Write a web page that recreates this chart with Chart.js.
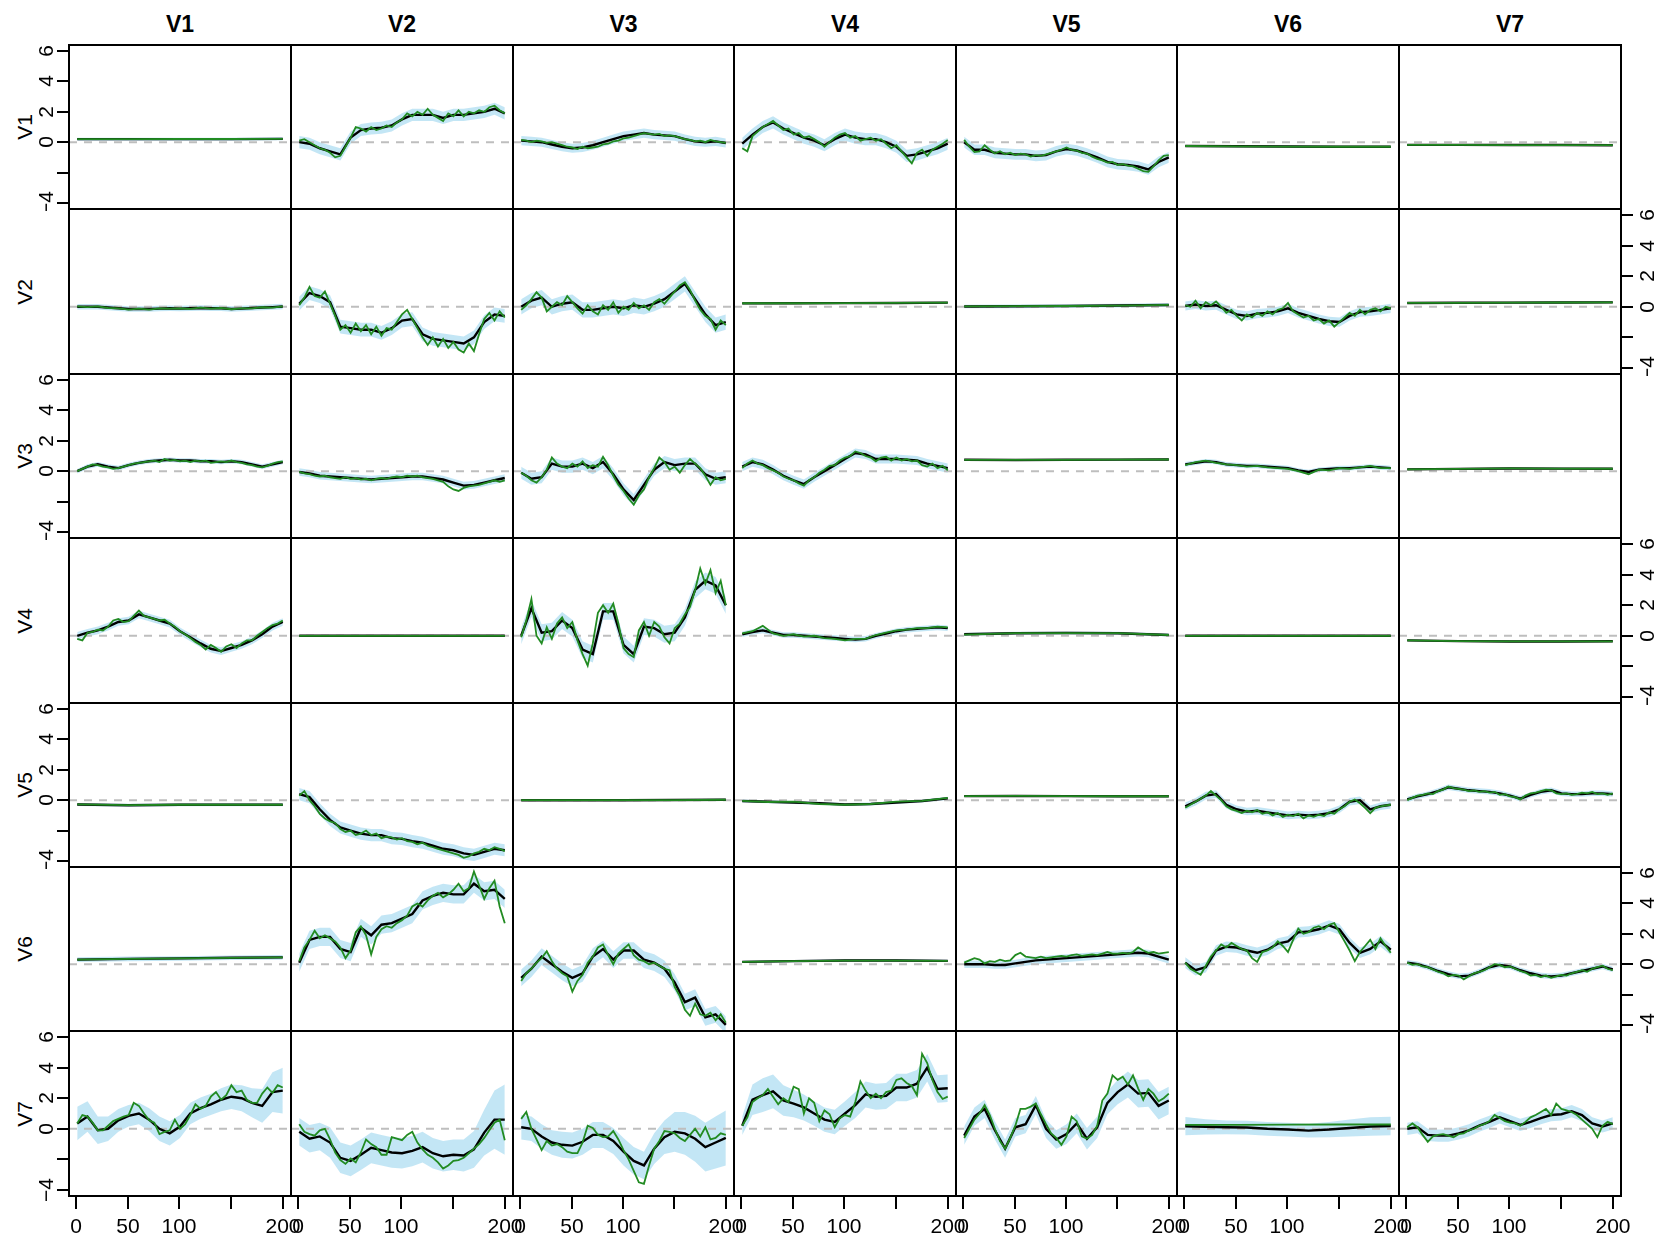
<!DOCTYPE html>
<html>
<head>
<meta charset="utf-8">
<script src="https://cdn.jsdelivr.net/npm/chart.js@4.4.0/dist/chart.umd.min.js"></script>
<style>
html,body{margin:0;padding:0;background:#fff;overflow:hidden}
#wrap{position:relative;width:1658px;height:1235px}
#wrap canvas{position:absolute}
.title{position:absolute;font:bold 23px "Liberation Sans",Arial,sans-serif;text-align:center;line-height:23px;color:#000}
.rowlab{position:absolute;font:21px "Liberation Sans",Arial,sans-serif;text-align:center;line-height:24px;width:60px;height:24px;transform:rotate(-90deg);color:#000}
</style>
</head>
<body>
<div id="wrap"></div>
<script>
// 7x7 grid of series, V-row against V-column. values.
const varNames = ['V1','V2','V3','V4','V5','V6','V7']
const xTicks = [0,50,100,150,200]
const xTickLabels = ['0','50','100','','200']
const yTicks = [-4,-2,0,2,4,6]
const yTickLabels = ['\u22124','','0','2','4','6']
const tFirst = 1, tLast = 200

// each row: one array per column (black = smoothed line, green = raw line, band = half width)
const row1Black = [
  [0.2,0.2,0.2,0.2,0.22],
  [0.0,-0.1,-0.4,-0.6,-0.8,0.3,0.8,0.9,0.95,1.1,1.5,1.8,1.8,1.8,1.6,1.8,1.8,1.9,2.0,2.2,1.9],
  [0.1,0.05,0.0,-0.15,-0.3,-0.4,-0.35,-0.2,0.0,0.2,0.4,0.5,0.6,0.5,0.45,0.4,0.2,0.05,0.0,0.05,-0.05],
  [-0.1,0.5,1.0,1.3,0.9,0.6,0.3,0.1,-0.2,0.2,0.5,0.3,0.2,0.2,0.0,-0.3,-0.9,-0.8,-0.6,-0.4,-0.1],
  [0.0,-0.5,-0.5,-0.7,-0.75,-0.8,-0.8,-0.9,-0.85,-0.6,-0.45,-0.55,-0.75,-1.0,-1.3,-1.45,-1.5,-1.6,-1.8,-1.3,-1.0],
  [-0.25,-0.27,-0.28,-0.3,-0.3],
  [-0.18,-0.18,-0.19,-0.19,-0.2]
]
const row1Green = [
  [0.2,0.2,0.21,0.21,0.22],
  [0.1,0.2,0.0,-0.2,-0.4,-0.5,-0.7,-1.0,-0.9,-0.3,0.3,1.0,0.9,0.7,1.0,0.8,0.9,1.1,1.0,1.3,1.5,1.9,1.7,2.0,1.8,2.2,1.8,1.6,1.4,1.9,1.7,2.1,1.7,2.0,1.9,2.1,2.0,2.3,2.4,2.1,1.9],
  [0.15,0.1,0.0,0.1,0.05,-0.05,0.0,-0.1,-0.2,-0.3,-0.35,-0.45,-0.3,-0.4,-0.35,-0.3,-0.15,-0.1,0.05,0.1,0.25,0.3,0.4,0.5,0.6,0.55,0.5,0.55,0.4,0.45,0.4,0.3,0.2,0.15,0.05,0.1,0.0,0.15,0.05,0.0,-0.05],
  [-0.4,-0.6,0.4,0.7,1.0,1.2,1.4,1.1,0.8,0.9,0.5,0.6,0.3,0.4,0.2,0.0,-0.3,0.0,0.3,0.5,0.6,0.3,0.4,0.1,0.2,0.3,0.1,0.2,-0.1,-0.4,-0.2,-0.6,-1.0,-1.4,-0.7,-0.5,-0.9,-0.5,-0.3,-0.1,0.15],
  [0.15,-0.3,-0.65,-0.6,-0.2,-0.5,-0.75,-0.6,-0.8,-0.7,-0.85,-0.75,-0.8,-0.95,-0.85,-0.9,-0.8,-0.7,-0.6,-0.5,-0.35,-0.5,-0.55,-0.7,-0.75,-0.95,-1.1,-1.2,-1.35,-1.3,-1.5,-1.45,-1.55,-1.6,-1.75,-1.9,-1.95,-1.6,-1.2,-0.9,-0.85],
  [-0.25,-0.27,-0.29,-0.3,-0.3],
  [-0.18,-0.18,-0.19,-0.19,-0.2]
]
const row1Band = [0.1,0.4,0.3,0.4,0.35,0.06,0.05]

const row2Black = [
  [0.0,0.0,0.0,-0.05,-0.1,-0.15,-0.15,-0.15,-0.12,-0.1,-0.12,-0.1,-0.08,-0.1,-0.1,-0.15,-0.12,-0.08,-0.05,-0.02,0.02],
  [0.2,0.9,0.7,0.3,-1.3,-1.4,-1.5,-1.5,-1.7,-1.4,-0.9,-0.8,-1.8,-2.1,-2.2,-2.3,-2.4,-2.0,-1.0,-0.5,-0.6],
  [0.0,0.4,0.6,0.0,0.2,0.3,-0.2,-0.2,-0.1,0.0,-0.1,0.1,0.0,0.2,0.5,1.0,1.5,0.5,-0.5,-1.2,-1.0],
  [0.22,0.23,0.24,0.25,0.27],
  [0.02,0.03,0.05,0.08,0.12],
  [0.05,0.15,0.05,0.1,-0.2,-0.5,-0.6,-0.45,-0.4,-0.3,-0.1,-0.4,-0.6,-0.8,-0.95,-1.0,-0.6,-0.35,-0.3,-0.2,-0.1],
  [0.25,0.26,0.27,0.28,0.29]
]
const row2Green = [
  [0.02,-0.02,0.03,-0.08,-0.1,-0.18,-0.12,-0.18,-0.1,-0.12,-0.1,-0.14,-0.06,-0.12,-0.08,-0.16,-0.1,-0.1,-0.03,-0.05,0.03],
  [0.1,0.6,1.3,0.7,0.6,1.0,0.2,-0.6,-1.5,-1.2,-1.7,-1.1,-1.6,-1.2,-1.8,-1.3,-1.9,-1.4,-1.5,-1.0,-0.5,-0.2,-0.8,-1.4,-2.0,-2.5,-2.0,-2.6,-2.1,-2.7,-2.3,-2.8,-3.0,-2.4,-2.9,-1.8,-0.8,-0.4,-0.9,-0.3,-0.7],
  [-0.2,0.1,0.5,0.95,0.6,-0.3,0.0,0.3,0.1,0.7,0.3,-0.1,-0.45,0.1,-0.3,-0.5,0.1,-0.2,0.3,-0.4,0.0,-0.2,0.25,-0.1,0.1,-0.2,0.3,0.5,0.2,0.6,1.0,1.4,1.6,1.1,0.4,-0.2,-0.6,-0.8,-1.5,-0.9,-1.2],
  [0.23,0.23,0.24,0.26,0.27],
  [0.02,0.04,0.05,0.08,0.12],
  [0.1,0.0,0.4,-0.1,0.3,0.1,0.35,0.0,-0.4,-0.2,-0.6,-0.9,-0.5,-0.7,-0.4,-0.6,-0.3,-0.5,-0.2,-0.1,0.25,-0.3,-0.5,-0.7,-0.6,-0.9,-0.8,-1.1,-0.9,-1.3,-1.0,-0.7,-0.4,-0.6,-0.2,-0.5,-0.2,-0.1,-0.3,0.0,-0.1],
  [0.25,0.26,0.27,0.28,0.29]
]
const row2Band = [0.18,0.45,0.5,0.05,0.12,0.3,0.05]

const row3Black = [
  [0.0,0.3,0.45,0.3,0.2,0.4,0.55,0.65,0.7,0.75,0.7,0.7,0.65,0.65,0.6,0.65,0.6,0.45,0.3,0.45,0.6],
  [-0.05,-0.15,-0.3,-0.35,-0.4,-0.45,-0.5,-0.55,-0.5,-0.45,-0.4,-0.35,-0.35,-0.45,-0.55,-0.75,-0.95,-0.9,-0.75,-0.6,-0.45],
  [-0.1,-0.5,-0.4,0.5,0.3,0.3,0.5,0.2,0.6,-0.2,-1.2,-1.9,-0.9,0.1,0.6,0.4,0.5,0.5,-0.2,-0.5,-0.4],
  [0.3,0.6,0.45,0.1,-0.3,-0.6,-0.85,-0.4,0.0,0.4,0.8,1.2,1.1,0.8,0.8,0.8,0.75,0.7,0.5,0.35,0.2],
  [0.75,0.74,0.75,0.76,0.77],
  [0.45,0.55,0.65,0.6,0.45,0.4,0.35,0.35,0.3,0.25,0.2,0.05,-0.05,0.1,0.15,0.2,0.2,0.25,0.3,0.25,0.2],
  [0.12,0.15,0.18,0.17,0.16]
]
const row3Green = [
  [0.0,0.15,0.3,0.45,0.4,0.3,0.25,0.15,0.2,0.3,0.4,0.5,0.55,0.6,0.65,0.7,0.6,0.8,0.7,0.75,0.65,0.7,0.6,0.7,0.65,0.7,0.55,0.6,0.65,0.6,0.7,0.6,0.55,0.45,0.4,0.3,0.25,0.35,0.5,0.6,0.65],
  [-0.05,-0.15,-0.2,-0.3,-0.35,-0.3,-0.4,-0.45,-0.5,-0.4,-0.5,-0.45,-0.55,-0.5,-0.6,-0.5,-0.45,-0.5,-0.4,-0.35,-0.4,-0.3,-0.35,-0.3,-0.4,-0.45,-0.5,-0.6,-0.7,-1.0,-1.2,-1.3,-1.1,-1.0,-0.95,-0.9,-0.8,-0.7,-0.6,-0.7,-0.6],
  [-0.1,-0.3,-0.6,-0.75,-0.4,0.1,0.9,0.5,0.3,0.2,0.5,0.3,0.65,0.2,0.4,0.3,0.95,0.4,-0.3,-0.9,-1.3,-1.8,-2.2,-1.6,-1.2,-0.4,0.2,0.9,0.6,0.1,0.3,-0.1,0.4,0.8,0.5,0.2,-0.3,-0.9,-0.4,-0.6,-0.5],
  [0.2,0.5,0.7,0.5,0.4,0.2,0.05,-0.1,-0.35,-0.5,-0.6,-0.8,-0.95,-0.6,-0.4,-0.1,0.1,0.35,0.4,0.7,0.9,1.0,1.3,1.2,1.0,0.9,0.65,0.9,0.95,0.7,0.9,0.7,0.8,0.65,0.7,0.4,0.3,0.5,0.2,0.35,0.05],
  [0.75,0.74,0.75,0.76,0.77],
  [0.4,0.6,0.7,0.55,0.45,0.4,0.3,0.35,0.25,0.2,0.15,0.0,-0.2,0.1,0.05,0.2,0.15,0.25,0.35,0.2,0.2],
  [0.12,0.15,0.18,0.17,0.16]
]
const row3Band = [0.15,0.25,0.4,0.3,0.05,0.15,0.05]

const row4Black = [
  [0.0,0.2,0.35,0.6,0.9,1.0,1.4,1.2,1.0,0.8,0.3,-0.1,-0.5,-0.85,-1.0,-0.8,-0.6,-0.3,0.1,0.6,0.9],
  [0.0,0.0,0.0,0.0,0.0],
  [0.0,1.8,0.2,0.3,1.0,0.5,-0.9,-1.2,1.6,1.6,-0.6,-1.2,0.6,0.5,0.1,0.2,1.2,3.0,3.6,3.3,2.0],
  [0.1,0.25,0.35,0.2,0.05,0.05,0.0,-0.05,-0.1,-0.15,-0.2,-0.25,-0.2,0.0,0.15,0.3,0.4,0.45,0.5,0.55,0.5],
  [0.1,0.17,0.18,0.17,0.05],
  [0.0,0.0,0.0,0.0,0.0],
  [-0.3,-0.35,-0.37,-0.37,-0.36]
]
const row4Green = [
  [-0.2,-0.3,0.2,0.25,0.4,0.35,0.6,1.0,1.1,0.9,0.95,1.3,1.65,1.3,1.2,1.1,1.0,1.05,0.8,0.6,0.3,0.1,-0.15,-0.4,-0.6,-0.9,-0.6,-0.8,-1.05,-0.7,-0.55,-0.8,-0.5,-0.3,-0.3,0.0,0.25,0.5,0.7,0.8,1.0],
  [0.0,0.0,0.0,0.0,0.0],
  [-0.1,1.0,2.4,0.0,-0.5,0.55,-0.2,0.8,1.2,0.5,0.9,-0.3,-1.2,-1.95,-0.5,1.5,2.0,1.5,2.1,0.8,-0.8,-1.2,-1.4,0.35,0.9,0.0,0.9,0.6,-0.1,-0.5,0.5,0.8,1.4,1.9,3.0,4.4,3.4,4.3,2.8,3.6,2.0],
  [0.15,0.3,0.65,0.15,0.0,0.1,-0.05,0.0,-0.15,-0.2,-0.3,-0.2,-0.2,0.05,0.2,0.35,0.4,0.5,0.5,0.6,0.55],
  [0.08,0.18,0.17,0.18,0.05],
  [0.0,0.0,0.0,0.0,0.0],
  [-0.3,-0.35,-0.37,-0.37,-0.36]
]
const row4Band = [0.25,0.03,0.55,0.18,0.1,0.03,0.04]

const row5Black = [
  [-0.28,-0.33,-0.3,-0.3,-0.3],
  [0.4,0.2,-0.6,-1.3,-1.8,-2.0,-2.2,-2.3,-2.3,-2.5,-2.55,-2.7,-2.8,-3.0,-3.2,-3.3,-3.5,-3.6,-3.4,-3.2,-3.3],
  [0.0,0.0,0.0,0.01,0.03],
  [-0.05,-0.1,-0.15,-0.2,-0.28,-0.25,-0.15,-0.05,0.12],
  [0.27,0.28,0.27,0.26,0.26],
  [-0.4,-0.1,0.3,0.4,-0.3,-0.6,-0.75,-0.7,-0.8,-0.9,-1.0,-0.95,-1.0,-0.95,-0.85,-0.6,-0.1,0.0,-0.6,-0.4,-0.3],
  [0.05,0.25,0.4,0.6,0.85,0.75,0.65,0.6,0.55,0.45,0.3,0.1,0.35,0.55,0.65,0.45,0.4,0.4,0.45,0.45,0.4]
]
const row5Green = [
  [-0.28,-0.33,-0.3,-0.3,-0.3],
  [0.3,0.6,0.0,-0.4,-0.9,-1.2,-1.4,-1.5,-1.9,-2.1,-2.0,-2.3,-2.2,-2.0,-2.3,-2.2,-2.5,-2.4,-2.45,-2.6,-2.5,-2.7,-2.75,-2.9,-2.8,-3.0,-3.1,-3.2,-3.3,-3.4,-3.5,-3.6,-3.8,-3.7,-3.5,-3.4,-3.2,-3.3,-3.1,-3.2,-3.35],
  [0.0,0.0,0.0,0.01,0.03],
  [-0.05,-0.12,-0.1,-0.25,-0.3,-0.25,-0.1,-0.05,0.15],
  [0.27,0.28,0.27,0.26,0.26],
  [-0.5,-0.3,-0.1,0.1,0.3,0.6,0.3,0.0,-0.4,-0.6,-0.7,-0.85,-0.7,-0.8,-0.65,-0.9,-0.8,-1.0,-0.85,-1.1,-0.95,-1.05,-0.9,-1.2,-1.0,-1.1,-0.95,-1.05,-0.8,-0.9,-0.6,-0.4,-0.1,0.05,-0.2,-0.5,-0.85,-0.5,-0.4,-0.35,-0.3],
  [0.0,0.15,0.3,0.35,0.45,0.4,0.6,0.7,0.9,0.8,0.75,0.7,0.6,0.65,0.55,0.6,0.5,0.55,0.35,0.4,0.25,0.2,0.05,0.3,0.45,0.5,0.6,0.7,0.65,0.45,0.4,0.45,0.35,0.4,0.5,0.45,0.55,0.4,0.45,0.35,0.45]
]
const row5Band = [0.1,0.4,0.06,0.1,0.06,0.25,0.18]

const row6Black = [
  [0.3,0.35,0.38,0.42,0.45],
  [0.1,1.6,1.8,1.8,1.0,0.8,2.4,1.9,2.6,2.7,3.0,3.3,4.2,4.5,4.7,4.6,4.6,5.3,4.8,4.9,4.3],
  [-0.9,-0.3,0.5,0.0,-0.5,-0.9,-0.6,0.5,1.0,0.3,0.9,0.9,0.3,0.1,-0.3,-1.2,-2.5,-2.2,-3.5,-3.3,-4.0],
  [0.15,0.2,0.24,0.24,0.22],
  [0.0,0.0,0.0,-0.05,-0.05,0.05,0.15,0.25,0.3,0.35,0.4,0.45,0.5,0.55,0.6,0.65,0.7,0.75,0.7,0.5,0.3],
  [0.1,-0.4,-0.2,0.9,1.15,1.1,0.9,0.75,0.95,1.35,1.5,2.1,2.15,2.3,2.55,2.3,1.4,0.75,1.0,1.5,0.95],
  [0.1,0.0,-0.2,-0.45,-0.65,-0.8,-0.75,-0.5,-0.2,-0.05,-0.15,-0.4,-0.6,-0.75,-0.8,-0.75,-0.6,-0.45,-0.3,-0.15,-0.35]
]
const row6Green = [
  [0.3,0.35,0.38,0.42,0.45],
  [0.2,1.1,1.6,2.2,1.7,1.9,1.7,1.5,1.1,0.4,0.9,2.1,2.5,1.9,0.65,1.8,2.3,2.5,2.4,2.7,2.9,3.2,3.8,4.0,3.8,4.2,4.5,4.7,4.4,4.6,4.9,5.3,4.8,5.0,6.1,5.2,4.3,5.0,5.5,3.8,2.7],
  [-1.1,-0.6,-0.3,0.1,0.4,0.85,0.2,-0.3,-0.6,-0.8,-1.8,-1.1,-0.7,0.1,0.5,1.1,1.3,0.6,0.0,0.7,1.0,1.3,0.6,0.3,0.2,0.0,0.1,-0.1,-0.3,-0.4,-1.5,-2.1,-3.0,-3.4,-2.6,-3.3,-3.4,-3.2,-3.7,-3.3,-3.85],
  [0.15,0.2,0.24,0.24,0.22],
  [0.1,0.25,0.4,0.3,0.05,0.2,0.15,0.3,0.2,0.25,0.6,0.75,0.5,0.45,0.4,0.5,0.4,0.45,0.5,0.55,0.5,0.6,0.65,0.55,0.6,0.65,0.6,0.7,0.8,0.7,0.7,0.75,0.7,0.8,1.1,0.9,0.75,0.8,0.7,0.75,0.8],
  [0.1,-0.3,-0.5,-0.7,-0.1,0.5,0.9,1.3,1.1,1.4,1.2,1.0,0.9,0.4,0.15,0.8,0.9,1.1,1.5,1.2,0.8,1.6,2.35,2.0,2.1,2.4,2.5,2.3,2.6,2.7,2.1,1.5,0.9,0.2,0.8,1.2,1.6,1.0,1.7,1.2,0.75],
  [0.1,-0.05,0.0,-0.15,-0.2,-0.35,-0.5,-0.6,-0.8,-0.7,-0.75,-1.0,-0.8,-0.6,-0.5,-0.4,-0.2,0.0,-0.05,-0.2,-0.15,-0.3,-0.45,-0.55,-0.75,-0.7,-0.85,-0.75,-0.9,-0.8,-0.7,-0.75,-0.6,-0.5,-0.4,-0.5,-0.3,-0.2,-0.1,-0.3,-0.4]
]
const row6Band = [0.15,0.6,0.55,0.08,0.25,0.35,0.18]

const row7Black = [
  [0.35,0.8,-0.1,0.0,0.55,0.85,1.0,0.6,0.0,-0.3,0.15,1.0,1.35,1.6,1.9,2.1,2.0,1.7,1.5,2.4,2.5],
  [-0.2,-0.65,-0.5,-0.9,-1.9,-2.1,-1.7,-1.25,-1.4,-1.55,-1.6,-1.45,-1.2,-1.6,-1.8,-1.7,-1.75,-1.35,-0.25,0.6,0.6],
  [0.1,0.0,-0.5,-0.9,-1.05,-1.1,-0.85,-0.4,-0.4,-0.8,-1.5,-2.1,-2.4,-1.3,-0.55,-0.2,-0.3,-0.65,-1.2,-0.9,-0.6],
  [0.2,1.9,2.2,2.45,1.85,1.65,1.4,1.0,0.6,0.45,1.0,1.55,2.25,2.1,2.15,2.7,2.7,2.95,4.0,2.6,2.65],
  [-0.45,0.8,1.3,-0.1,-1.3,0.1,0.3,1.55,0.0,-0.7,-0.35,0.35,-0.65,0.1,1.7,2.4,2.9,2.3,2.35,1.5,1.85],
  [0.17,0.13,0.1,0.08,0.0,-0.05,-0.12,-0.05,0.05,0.15,0.18],
  [0.0,0.1,-0.4,-0.45,-0.45,-0.3,-0.1,0.2,0.45,0.75,0.5,0.25,0.45,0.7,0.9,0.95,1.15,0.9,0.35,0.15,0.35]
]
const row7Green = [
  [0.35,0.9,0.8,0.4,-0.1,-0.1,0.2,0.5,0.65,0.8,0.9,1.7,1.5,1.0,0.55,0.4,-0.35,-0.2,-0.1,0.6,0.0,0.3,0.9,1.6,1.3,1.5,2.1,2.4,1.9,2.2,2.85,2.4,2.5,1.9,1.7,1.7,2.3,2.7,2.35,2.85,2.7],
  [0.3,-0.2,-0.35,-0.45,-0.1,0.0,-0.7,-1.55,-2.05,-2.3,-1.95,-2.2,-1.55,-0.7,-1.0,-1.2,-1.7,-1.7,-0.55,-0.65,-0.75,-0.4,-0.2,-0.9,-1.35,-1.7,-1.9,-2.2,-2.6,-2.4,-2.1,-2.05,-1.9,-1.6,-1.3,-1.0,-0.6,-0.1,0.4,0.6,-0.75],
  [0.65,1.1,0.0,-0.7,-1.4,-0.8,-1.1,-1.0,-1.2,-1.5,-1.6,-1.6,-0.9,0.2,0.05,-0.4,-0.55,-0.5,-0.15,-0.7,-1.4,-2.0,-2.75,-3.5,-3.6,-2.4,-1.3,-0.8,-0.15,-0.2,-0.3,-0.6,-0.8,-0.4,0.0,-0.5,0.1,-0.7,-0.6,-0.3,-0.4],
  [0.2,0.75,1.75,2.0,2.2,2.6,2.1,1.6,2.0,1.75,2.75,2.6,1.0,2.0,1.7,0.5,1.2,0.95,0.1,0.7,0.9,0.8,1.75,3.1,2.5,2.0,2.3,2.0,2.4,2.5,3.2,3.3,3.0,2.8,2.2,4.9,4.3,3.2,2.4,1.95,2.1],
  [-0.6,0.0,0.6,1.0,1.55,0.9,0.0,-0.8,-1.3,-0.6,0.2,1.3,1.3,1.45,1.65,0.95,0.3,-0.3,-0.6,-1.05,-0.5,0.8,0.5,-0.5,-0.65,-0.4,0.2,1.85,2.3,3.5,3.2,3.4,2.9,3.5,2.65,1.9,2.6,2.3,1.8,2.0,2.3],
  [0.25,0.26,0.27,0.28,0.28],
  [0.1,0.35,0.1,-0.4,-0.85,-0.5,-0.4,-0.35,-0.45,-0.55,-0.35,-0.3,-0.1,0.0,0.2,0.3,0.5,0.9,0.7,0.5,0.4,0.35,0.2,0.45,0.75,0.9,1.1,1.3,0.9,1.65,1.3,1.2,1.1,0.9,0.6,0.3,0.0,-0.55,0.2,0.45,0.3]
]
const row7Band = [
  [1.1,1.0,0.9,0.8,0.75,0.7,0.7,0.75,0.8,0.8,0.75,0.7,0.7,0.7,0.75,0.8,0.85,0.95,1.1,1.3,1.5],
  [0.9,0.9,0.9,1.0,1.0,1.0,1.0,1.0,1.0,1.0,1.0,1.0,1.0,1.0,1.0,1.0,1.05,1.2,1.5,1.9,2.3],
  [0.8,0.8,0.8,0.8,0.85,0.85,0.85,0.85,0.85,0.85,0.9,0.9,0.9,1.0,1.1,1.3,1.4,1.5,1.6,1.7,1.8],
  [0.6,1.0,1.1,1.1,1.0,0.9,0.85,0.8,0.8,0.8,0.8,0.85,0.85,0.85,0.85,0.9,0.9,0.9,0.9,0.9,0.9],
  [0.6,0.6,0.6,0.6,0.6,0.6,0.6,0.6,0.6,0.6,0.65,0.65,0.7,0.7,0.75,0.8,0.85,0.9,0.9,0.9,0.9],
  [0.6,0.5,0.45,0.45,0.45,0.45,0.45,0.5,0.55,0.6,0.6],
  0.4
]

const blackRows = [row1Black,row2Black,row3Black,row4Black,row5Black,row6Black,row7Black]
const greenRows = [row1Green,row2Green,row3Green,row4Green,row5Green,row6Green,row7Green]
const bandRows = [row1Band,row2Band,row3Band,row4Band,row5Band,row6Band,row7Band]

// scale limits (R style 4% padding round the data range)
const X_MIN = -6.96, X_MAX = 207.96
const Y_MIN = -4.4, Y_MAX = 6.4

const GRID_LEFT = 69.4, GRID_TOP = 45, CELL_W = 221.6, CELL_H = 164.4
const colX = [], rowY = []
for(let i=0;i<=7;i++){ colX.push(Math.round(GRID_LEFT+i*CELL_W)); rowY.push(Math.round(GRID_TOP+i*CELL_H)) }

const FONT = '"Liberation Sans", Arial, Helvetica, sans-serif'

function toPoints(vals){
  const n = vals.length
  return vals.map((v,i)=>({x: tFirst + i*(tLast-tFirst)/(n-1), y: v}))
}
function bandEdge(black, w, sign){
  return black.map((v,i)=>{
    const half = Array.isArray(w) ? w[i] : w
    return v + sign*half
  })
}

const panelAxes = {
  id: 'panelAxes',
  afterDraw(chart, args, opts){
    const {ctx, chartArea:a} = chart
    const xs = chart.scales.x, ys = chart.scales.y
    ctx.save()
    ctx.strokeStyle = '#000'
    ctx.lineWidth = 2
    ctx.strokeRect(a.left, a.top, a.right-a.left, a.bottom-a.top)
    ctx.fillStyle = '#000'
    ctx.font = '21px ' + FONT
    if(opts.left || opts.right){
      yTicks.forEach((v,i)=>{
        const py = Math.round(ys.getPixelForValue(v))
        ctx.beginPath()
        if(opts.left){ ctx.moveTo(a.left-12, py); ctx.lineTo(a.left, py) }
        else { ctx.moveTo(a.right, py); ctx.lineTo(a.right+12, py) }
        ctx.stroke()
        if(yTickLabels[i]){
          ctx.save()
          ctx.translate(opts.left ? a.left-16.5 : a.right+33, py)
          ctx.rotate(-Math.PI/2)
          ctx.textAlign = 'center'
          ctx.textBaseline = 'alphabetic'
          ctx.fillText(yTickLabels[i], 0, 0)
          ctx.restore()
        }
      })
    }
    if(opts.bottom){
      xTicks.forEach((v,i)=>{
        const px = Math.round(xs.getPixelForValue(v))
        ctx.beginPath(); ctx.moveTo(px, a.bottom); ctx.lineTo(px, a.bottom+13); ctx.stroke()
        if(xTickLabels[i]){
          ctx.textAlign = 'center'
          ctx.textBaseline = 'alphabetic'
          ctx.fillText(xTickLabels[i], px, a.bottom+37)
        }
      })
    }
    ctx.restore()
  }
}

const wrap = document.getElementById('wrap')

for(let c=0;c<7;c++){
  const d = document.createElement('div')
  d.className = 'title'
  d.textContent = varNames[c]
  d.style.left = colX[c]+'px'
  d.style.width = (colX[c+1]-colX[c])+'px'
  d.style.top = '13px'
  wrap.appendChild(d)
}
for(let r=0;r<7;r++){
  const d = document.createElement('div')
  d.className = 'rowlab'
  d.textContent = varNames[r]
  const cy = (rowY[r]+rowY[r+1])/2
  d.style.left = (25-30)+'px'
  d.style.top = (cy-12)+'px'
  wrap.appendChild(d)
}

for(let r=0;r<7;r++){
  for(let c=0;c<7;c++){
    const black = blackRows[r][c], green = greenRows[r][c], w = bandRows[r][c]
    const padL = c===0 ? 70 : 2
    const padR = c===6 ? 42 : (r===6 ? 20 : 2)
    const padT = 2
    const padB = r===6 ? 42 : 2
    const pw = colX[c+1]-colX[c], ph = rowY[r+1]-rowY[r]
    const cv = document.createElement('canvas')
    cv.width = pw+padL+padR
    cv.height = ph+padT+padB
    cv.style.width = cv.width+'px'
    cv.style.height = cv.height+'px'
    cv.style.left = (colX[c]-padL)+'px'
    cv.style.top = (rowY[r]-padT)+'px'
    wrap.appendChild(cv)

    new Chart(cv, {
      type: 'line',
      data: {datasets: [
        {data: toPoints(green), borderColor: '#228B22', borderWidth: 1.8},
        {data: toPoints(black), borderColor: '#000', borderWidth: 2.4},
        {data: [{x:X_MIN,y:0},{x:X_MAX,y:0}], borderColor: '#bebebe', borderWidth: 2, borderDash: [8,7]},
        {data: toPoints(bandEdge(black, w, 1)), borderWidth: 0, borderColor: 'rgba(0,0,0,0)', backgroundColor: 'rgba(135,206,235,0.5)', fill: '+1'},
        {data: toPoints(bandEdge(black, w, -1)), borderWidth: 0, borderColor: 'rgba(0,0,0,0)', fill: false}
      ]},
      options: {
        responsive: false,
        animation: false,
        devicePixelRatio: 1,
        layout: {padding: {left: padL, right: padR, top: padT, bottom: padB}},
        elements: {point: {radius: 0}, line: {tension: 0}},
        scales: {
          x: {type: 'linear', min: X_MIN, max: X_MAX, display: false},
          y: {type: 'linear', min: Y_MIN, max: Y_MAX, display: false}
        },
        plugins: {
          legend: {display: false},
          tooltip: {enabled: false},
          panelAxes: {left: c===0 && r%2===0, right: c===6 && r%2===1, bottom: r===6}
        }
      },
      plugins: [panelAxes]
    })
  }
}
</script>
</body>
</html>
